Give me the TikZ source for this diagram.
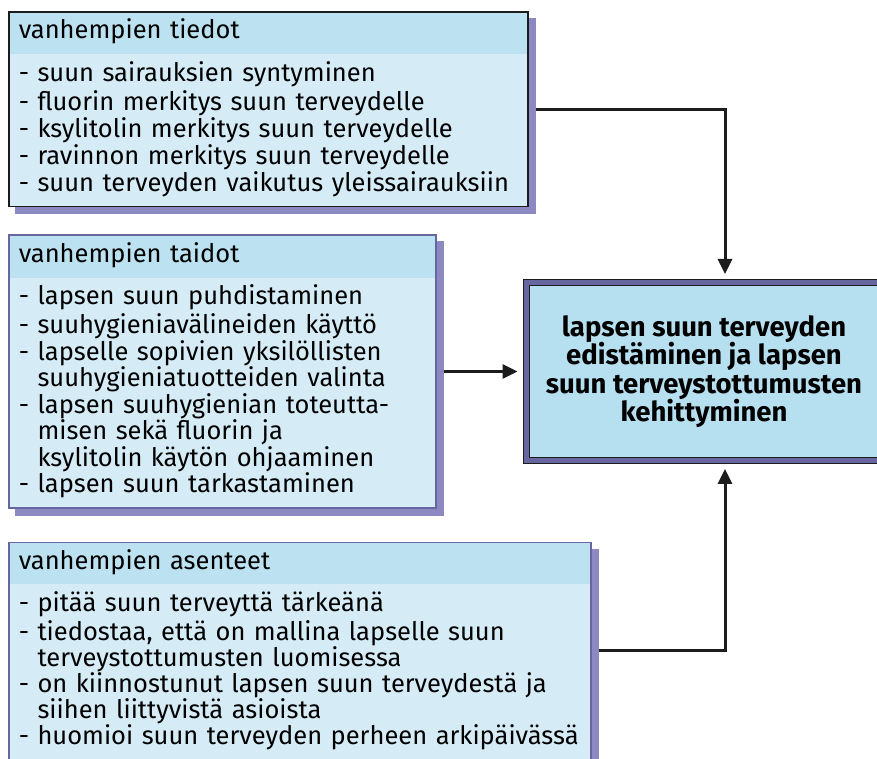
\documentclass[tikz,border=0pt]{standalone}
\usepackage{fontspec}
\setmainfont{Fira Sans}
\usetikzlibrary{positioning,arrows.meta,calc,shapes.multipart,backgrounds}
\definecolor{hdrblue}{RGB}{188,226,242}
\definecolor{bodyblue}{RGB}{213,236,247}
\definecolor{goalblue}{RGB}{182,223,240}
\definecolor{shadowpurple}{RGB}{140,136,194}
\definecolor{framepurple}{RGB}{104,102,160}
\definecolor{inkdark}{RGB}{28,28,28}
\newcommand{\contline}{\phantom{- }}
\lineskiplimit=-100pt
\tikzset{
  infobox/.style ={draw=framepurple, line width=1.5pt, rectangle split, rectangle split parts=2,
                   rectangle split draw splits=false, rectangle split part fill={hdrblue,bodyblue},
                   inner xsep=10pt, inner ysep=6.5pt, align=left, font=\fontsize{25.5}{27}\selectfont},
  shade/.style   ={fill=shadowpurple},
  goal/.style    ={draw=inkdark, double=framepurple, double distance=5pt, line width=1pt, fill=goalblue,
                   minimum width=356pt, minimum height=178pt, align=center,
                   font=\fontsize{27.5}{28.5}\selectfont\bfseries},
  arr/.style     ={-{Triangle[length=15pt,width=14pt]}, line width=3pt, draw=inkdark,
                   shorten <=7pt, shorten >=8pt},
}
\begin{document}
\begin{tikzpicture}[x=1pt,y=1pt]
  \clip (0,0) rectangle (877,-758);
  \node[infobox, draw=inkdark, text width=499pt, anchor=north west] (tiedot) at (8,-11)
    {\strut vanhempien tiedot\strut
     \nodepart{two}\strut - suun sairauksien syntyminen\\
     - fluorin merkitys suun terveydelle\\
     - ksylitolin merkitys suun terveydelle\\
     - ravinnon merkitys suun terveydelle\\
     - suun terveyden vaikutus yleissairauksiin\strut};
  \node[infobox, text width=407pt, font=\fontsize{25.5}{26.5}\selectfont,
        below=27pt of tiedot.south west, anchor=north west] (taidot)
    {\strut vanhempien taidot\strut
     \nodepart{two}\strut - lapsen suun puhdistaminen\\
     - suuhygieniavälineiden käyttö\\
     - lapselle sopivien yksilöllisten\\
     \contline suuhygieniatuotteiden valinta\\
     - lapsen suuhygienian toteutta-\\
     \contline misen sekä fluorin ja\\
     \contline ksylitolin käytön ohjaaminen\\
     - lapsen suun tarkastaminen\strut};
  \node[infobox, text width=562pt, font=\fontsize{25.5}{26}\selectfont,
        below=33pt of taidot.south west, anchor=north west] (asenteet)
    {\strut vanhempien asenteet\strut
     \nodepart{two}\strut - pitää suun terveyttä tärkeänä\\
     - tiedostaa, että on mallina lapselle suun\\
     \contline terveystottumusten luomisessa\\
     - on kiinnostunut lapsen suun terveydestä ja\\
     \contline siihen liittyvistä asioista\\
     - huomioi suun terveyden perheen arkipäivässä\strut};

  % shadows behind the three boxes
  \begin{scope}[on background layer]
    \foreach \b in {tiedot,taidot,asenteet}
      \fill[shade] ($(\b.south west)+(7,-7)$) rectangle ($(\b.north east)+(7,-7)$);
  \end{scope}

  \node[goal, right=89pt of taidot] (goal)
    {lapsen suun terveyden\\ edistäminen ja lapsen\\ suun terveystottumusten\\ kehittyminen};

  \draw[arr] (tiedot.east) -| ($(goal.north)+(21,0)$);
  \draw[arr] (taidot.east) -- (goal.west);
  \draw[arr] (asenteet.east) -| ($(goal.south)+(21,0)$);
\end{tikzpicture}
\end{document}
